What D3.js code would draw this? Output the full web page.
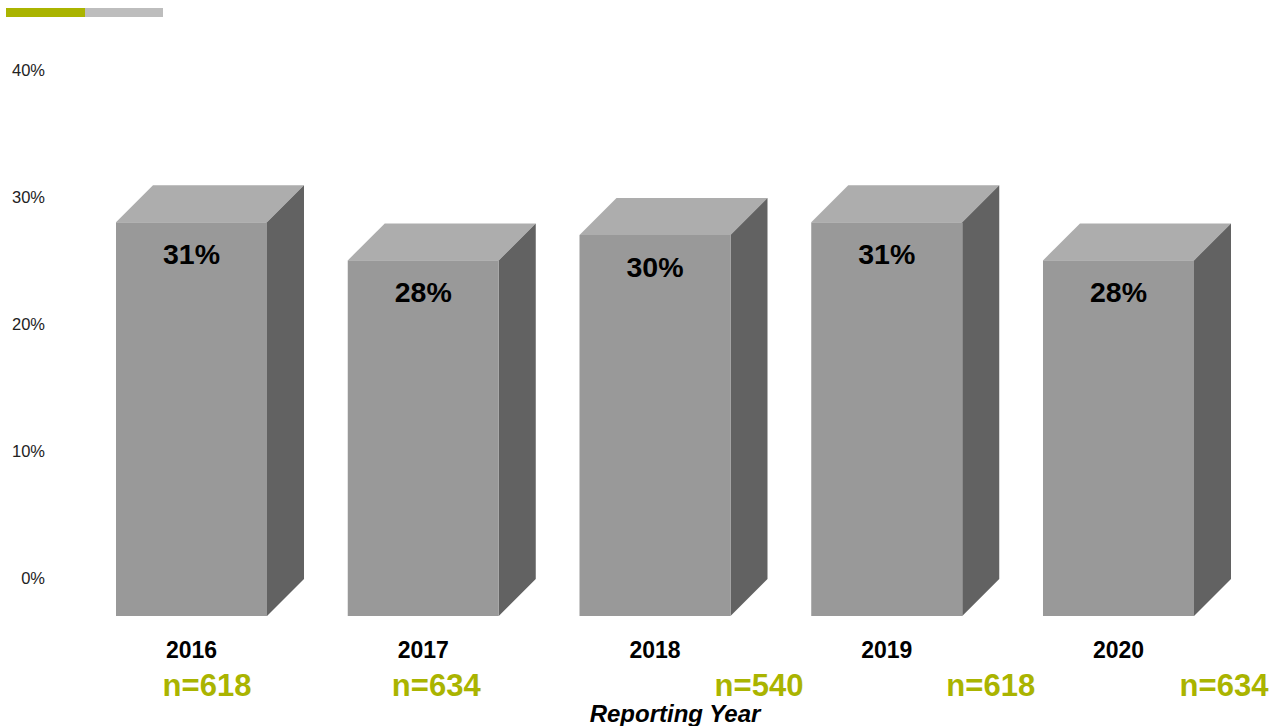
<!DOCTYPE html>
<html><head><meta charset="utf-8">
<script src="https://cdn.jsdelivr.net/npm/d3@7"></script>
<style>body{margin:0;background:#fff}svg{display:block}</style>
</head><body>
<script>
const years = ["2016","2017","2018","2019","2020"];
const values = [31, 28, 30, 31, 28];
const valueLabels = ["31%","28%","30%","31%","28%"];
const nLabels = ["n=618","n=634","n=540","n=618","n=634"];
const yTicks = [0, 10, 20, 30, 40];

// layout (not data)
const nShift = [15.5, 13, 104, 104, 105.5];
const W = 1272, H = 726;
const depth = 37;
const FONT = "Liberation Sans, Arial, sans-serif";
const svg = d3.select("body").append("svg").attr("width", W).attr("height", H);

// top decoration
svg.append("rect").attr("x",6).attr("y",8).attr("width",79).attr("height",9).attr("fill","#aab400");
svg.append("rect").attr("x",85).attr("y",8).attr("width",78).attr("height",9).attr("fill","#bdbdbd");

const y = d3.scaleLinear().domain([0,40]).range([578,70]);
const x = d3.scaleBand().domain(years).range([116, 1194]).paddingInner(0.3484).paddingOuter(0);
const bw = x.bandwidth();

// y axis labels
const yAxis = d3.axisLeft(y).tickValues(yTicks).tickFormat(d => d + "%").tickSize(0).tickPadding(0);
const ga = svg.append("g").attr("transform","translate(45,0)").call(yAxis);
ga.select(".domain").remove();
ga.selectAll("text").attr("font-family",FONT).attr("font-size",16.5).attr("fill","#222").attr("dy","0.35em");

const g = svg.append("g");
years.forEach((yr, i) => {
  const x0 = x(yr), x1 = x0 + bw;
  const yb = y(0) + depth + 1, yt = y(values[i]) + depth + 1;
  g.append("path").attr("d", `M${x0},${yt} L${x0+depth},${yt-depth} L${x1+depth},${yt-depth} L${x1},${yt} Z`).attr("fill","#adadad");
  g.append("path").attr("d", `M${x1},${yt} L${x1+depth},${yt-depth} L${x1+depth},${yb-depth} L${x1},${yb} Z`).attr("fill","#626262");
  g.append("rect").attr("x",x0).attr("y",yt).attr("width",bw).attr("height",yb-yt).attr("fill","#999999");
  g.append("text").attr("x", x0 + bw/2).attr("y", yt + 42).attr("text-anchor","middle")
    .attr("font-family",FONT).attr("font-weight","bold").attr("font-size",28.5).attr("fill","#000")
    .text(valueLabels[i]);
  g.append("text").attr("x", x0 + bw/2).attr("y", 658).attr("text-anchor","middle")
    .attr("font-family",FONT).attr("font-weight","bold").attr("font-size",23).attr("fill","#000")
    .text(yr);
  g.append("text").attr("x", x0 + bw/2 + nShift[i]).attr("y", 696).attr("text-anchor","middle")
    .attr("font-family",FONT).attr("font-weight","bold").attr("font-size",31).attr("fill","#aab400")
    .text(nLabels[i]);
});

svg.append("text").attr("x",675).attr("y",722).attr("text-anchor","middle")
  .attr("font-family",FONT).attr("font-weight","bold").attr("font-style","italic")
  .attr("font-size",24).attr("fill","#000").text("Reporting Year");
</script>
</body></html>
